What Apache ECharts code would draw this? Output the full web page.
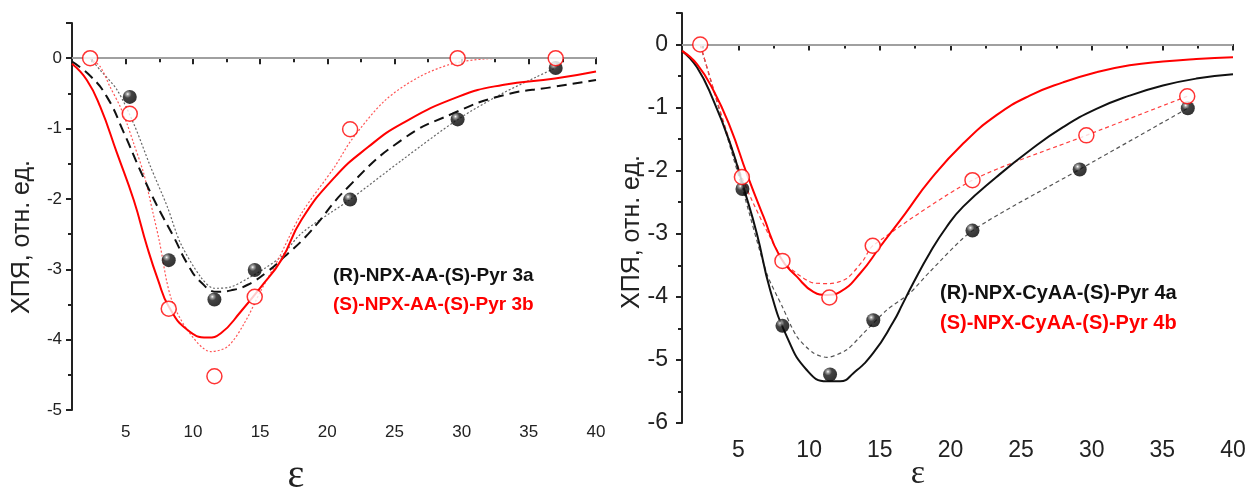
<!DOCTYPE html>
<html>
<head>
<meta charset="utf-8">
<script src="https://cdn.jsdelivr.net/npm/echarts@6/dist/echarts.min.js"></script>
<style>
  html, body { margin: 0; padding: 0; background: #fff; }
  #chart { width: 1250px; height: 491px; }
</style>
</head>
<body>
<div id="chart"></div>
<script>
// ---- левая панель: 3a / 3b ----
const eps3a = [5.3, 8.2, 11.6, 14.6, 21.7, 29.7, 37.0];
const val3a = [-0.55, -2.87, -3.43, -3.01, -2.01, -0.87, -0.14];
const eps3b = [2.35, 5.3, 8.2, 11.6, 14.6, 21.7, 29.7, 37.0];
const val3b = [0, -0.79, -3.56, -4.52, -3.39, -1.01, 0, 0];

// модельные кривые (сплошная / штриховая)
const model3aX = [1, 2.35, 3.6, 4.84, 6.09, 7.34, 8.6, 9.58, 10.58, 11.83, 12.83, 14.08, 15.57, 16.82, 18.57, 21.56, 25.55, 29.3, 33.04, 36.78, 40];
const model3aY = [-0.05, -0.25, -0.55, -1.05, -1.6, -2.1, -2.55, -2.92, -3.18, -3.32, -3.3, -3.22, -3.03, -2.82, -2.5, -1.83, -1.16, -0.79, -0.53, -0.41, -0.31];
const model3bX = [1, 2.1, 3.1, 4.35, 5.6, 6.59, 7.4, 8.2, 9.58, 11.08, 12.08, 13.57, 15.07, 16.57, 18.07, 20.56, 23.06, 25.55, 29.72, 33.04, 36.95, 40];
const model3bY = [-0.08, -0.31, -0.69, -1.35, -2.02, -2.68, -3.15, -3.53, -3.86, -3.97, -3.91, -3.6, -3.25, -2.87, -2.3, -1.69, -1.26, -0.93, -0.55, -0.38, -0.29, -0.19];
// аппроксимация точек (пунктир)
const fit3aX = [2.35, 3.1, 4.35, 5.59, 6.84, 8.09, 9.08, 10.58, 11.58, 12.83, 14.08, 15.32, 16.57, 18.07, 21.68, 25.55, 29.72, 33.04, 35.53, 36.95];
const fit3aY = [0, -0.17, -0.45, -0.93, -1.54, -2.11, -2.63, -3.11, -3.27, -3.25, -3.13, -2.99, -2.82, -2.49, -2.01, -1.45, -0.87, -0.5, -0.27, -0.14];
const fit3bX = [2.35, 3.1, 3.84, 4.59, 5.09, 5.59, 6.34, 7.09, 7.5, 8.34, 9.58, 11.33, 12.58, 13.82, 15.07, 16.32, 18.07, 20.56, 21.81, 24.3, 26.8, 29.29, 31.8, 34.3, 37];
const fit3bY = [0, -0.12, -0.41, -0.69, -0.93, -1.21, -1.64, -2.25, -2.6, -3.39, -3.86, -4.17, -4.1, -3.77, -3.3, -2.87, -2.21, -1.54, -1.16, -0.6, -0.27, -0.08, -0.01, 0, 0];

// ---- правая панель: 4a / 4b ----
const eps4a = [5.28, 8.11, 11.48, 14.54, 21.56, 29.15, 36.8];
const val4a = [-2.29, -4.46, -5.23, -4.37, -2.95, -1.98, -1.01];
const eps4b = [2.29, 5.24, 8.11, 11.43, 14.5, 21.56, 29.62, 36.76];
const val4b = [0, -2.1, -3.43, -4.01, -3.19, -2.15, -1.44, -0.82];

const model4aX = [1, 2.06, 3.23, 4.41, 5.35, 6.3, 7.24, 8.42, 9.83, 11.25, 12.19, 13.13, 14.54, 15.95, 16.6, 17.37, 18.55, 19.7, 20.9, 23.26, 25.61, 27.97, 30.33, 32.68, 35.04, 37.4, 40];
const model4aY = [-0.1, -0.36, -0.89, -1.57, -2.26, -3.0, -3.89, -4.63, -5.16, -5.34, -5.34, -5.21, -4.89, -4.4, -4.12, -3.78, -3.3, -2.9, -2.57, -2.1, -1.68, -1.31, -1.02, -0.81, -0.65, -0.54, -0.47];
const model4bX = [1, 2.06, 3.23, 4.41, 5.59, 6.77, 7.95, 9.13, 10.3, 11.25, 12.19, 13.6, 15.01, 16.8, 18.55, 20.9, 23.26, 25.61, 27.97, 30.33, 32.68, 35.04, 37.4, 40];
const model4bY = [-0.1, -0.31, -0.73, -1.31, -2.05, -2.73, -3.37, -3.68, -3.92, -3.97, -3.92, -3.63, -3.21, -2.68, -2.15, -1.57, -1.12, -0.81, -0.6, -0.44, -0.33, -0.27, -0.23, -0.2];
const fit4aX = [2.29, 5.28, 7.0, 8.11, 9.13, 10.3, 11.25, 12.66, 13.83, 15.49, 17.13, 18.55, 21.56, 29.15, 36.8];
const fit4aY = [0, -2.29, -3.63, -4.16, -4.63, -4.89, -4.96, -4.84, -4.58, -4.21, -3.94, -3.6, -2.95, -1.98, -1.01];
const fit4bX = [2.29, 5.24, 8.11, 9.13, 10.3, 11.48, 12.66, 13.83, 14.5, 21.56, 29.62, 36.76];
const fit4bY = [0, -2.1, -3.42, -3.63, -3.78, -3.79, -3.71, -3.42, -3.19, -2.15, -1.44, -0.82];

// подписи осей
const xMajor = [5, 10, 15, 20, 25, 30, 35, 40];
const xMinor = [2.5, 7.5, 12.5, 17.5, 22.5, 27.5, 32.5, 37.5];
const yLabels3 = [-5, -4, -3, -2, -1, 0];
const yMajor3 = [-5, -4, -3, -2, -1, 0, 0.5];
const yMinor3 = [-4.5, -3.5, -2.5, -1.5, -0.5];
const yLabels4 = [-6, -5, -4, -3, -2, -1, 0];
const yMajor4 = [-6, -5, -4, -3, -2, -1, 0, 0.5];
const yMinor4 = [-5.5, -4.5, -3.5, -2.5, -1.5, -0.5];

const yName = 'ХПЯ, отн. ед.';
const legend3 = ['(R)-NPX-AA-(S)-Pyr 3a', '(S)-NPX-AA-(S)-Pyr 3b'];
const legend4 = ['(R)-NPX-CyAA-(S)-Pyr 4a', '(S)-NPX-CyAA-(S)-Pyr 4b'];

const pairs = (xs, ys) => xs.map((x, i) => [x, ys[i]]);

const FONT = '"Liberation Sans", Arial, sans-serif';
const RED = '#ff0000';

// чёрные "шарики" с бликом
const sphere = new echarts.graphic.RadialGradient(0.35, 0.3, 0.7, [
    { offset: 0, color: '#ffffff' },
    { offset: 0.15, color: '#8a8a8a' },
    { offset: 0.4, color: '#151515' },
    { offset: 1, color: '#000000' }
]);

function xAxes(grid, fontSize, margin) {
    return [{
        gridIndex: grid, type: 'value', min: 1, max: 40, position: 'bottom',
        axisLine: { lineStyle: { color: '#222', width: 2 } },
        axisTick: { customValues: xMajor, length: 6, lineStyle: { color: '#222', width: 2 } },
        axisLabel: { customValues: xMajor, fontSize: fontSize, margin: margin, color: '#222', fontFamily: FONT },
        splitLine: { show: false }
    }, {
        gridIndex: grid, type: 'value', min: 1, max: 40, position: 'bottom',
        axisLine: { show: false },
        axisTick: { customValues: xMinor, length: 4, lineStyle: { color: '#222', width: 2 } },
        axisLabel: { show: false },
        splitLine: { show: false }
    }];
}

function yAxes(grid, min, labels, major, minor, fontSize, margin) {
    return [{
        gridIndex: grid, type: 'value', min: min, max: 0.5, position: 'left',
        axisLine: { show: true, lineStyle: { color: '#222', width: 2 } },
        axisTick: { show: true, customValues: major, length: 6, lineStyle: { color: '#222', width: 2 } },
        axisLabel: { customValues: labels, fontSize: fontSize, margin: margin, color: '#222', fontFamily: FONT },
        splitLine: { show: false }
    }, {
        gridIndex: grid, type: 'value', min: min, max: 0.5, position: 'left',
        axisLine: { show: false },
        axisTick: { show: true, customValues: minor, length: 4, lineStyle: { color: '#222', width: 2 } },
        axisLabel: { show: false },
        splitLine: { show: false }
    }];
}

function curve(ax, data, color, width, type, smooth, z) {
    return {
        type: 'line', xAxisIndex: ax, yAxisIndex: ax, data: data,
        smooth: smooth, showSymbol: false, symbol: 'none', silent: true, z: z,
        lineStyle: { color: color, width: width, type: type }
    };
}

function zeroLine(ax) {
    return {
        type: 'line', xAxisIndex: ax, yAxisIndex: ax, data: [], z: 1,
        markLine: {
            silent: true, symbol: 'none', label: { show: false },
            lineStyle: { color: '#a0a0a0', width: 2, type: 'solid' },
            data: [{ yAxis: 0 }]
        }
    };
}

function balls(ax, data) {
    return {
        type: 'scatter', xAxisIndex: ax, yAxisIndex: ax, data: data, z: 10,
        symbol: 'circle', symbolSize: 14,
        itemStyle: { color: sphere }
    };
}

function rings(ax, data) {
    return {
        type: 'scatter', xAxisIndex: ax, yAxisIndex: ax, data: data, z: 11,
        symbol: 'circle', symbolSize: 15,
        itemStyle: { color: '#ffffff', borderColor: RED, borderWidth: 1.5 }
    };
}

const chart = echarts.init(document.getElementById('chart'));

const option = {
    animation: false,
    backgroundColor: '#fff',
    grid: [
        { left: 72, top: 23, width: 524, height: 387 },
        { left: 682, top: 13, width: 551, height: 410 }
    ],
    xAxis: [...xAxes(0, 17, 14), ...xAxes(1, 23, 16)],
    yAxis: [
        ...yAxes(0, -5, yLabels3, yMajor3, yMinor3, 17, 10),
        ...yAxes(1, -6, yLabels4, yMajor4, yMinor4, 23, 14)
    ],
    series: [
        // левая панель (оси 0)
        zeroLine(0),
        curve(0, pairs(fit3aX, fit3aY), '#666', 1.2, [2, 2], 0.3, 3),
        curve(0, pairs(fit3bX, fit3bY), '#ff5555', 1.2, [2, 2], 0.3, 3),
        curve(0, pairs(model3aX, model3aY), '#111', 2, [10, 6], 0.5, 4),
        curve(0, pairs(model3bX, model3bY), RED, 2, 'solid', 0.5, 4),
        balls(0, pairs(eps3a, val3a)),
        rings(0, pairs(eps3b, val3b)),
        // правая панель (оси 2)
        zeroLine(2),
        curve(2, pairs(fit4aX, fit4aY), '#555', 1.2, [4, 3], 0.25, 3),
        curve(2, pairs(fit4bX, fit4bY), '#ff4040', 1.2, [4, 3], 0.25, 3),
        curve(2, pairs(model4aX, model4aY), '#111', 2, 'solid', 0.5, 4),
        curve(2, pairs(model4bX, model4bY), RED, 2, 'solid', 0.5, 4),
        balls(2, pairs(eps4a, val4a)),
        rings(2, pairs(eps4b, val4b))
    ],
    graphic: [
        { type: 'text', x: 22, y: 237, rotation: Math.PI / 2,
          style: { text: yName, font: '25px ' + FONT, fill: '#222', align: 'center', verticalAlign: 'middle' } },
        { type: 'text', x: 632, y: 232, rotation: Math.PI / 2,
          style: { text: yName, font: '25px ' + FONT, fill: '#222', align: 'center', verticalAlign: 'middle' } },
        { type: 'text', x: 296, y: 476,
          style: { text: 'ε', font: '40px "Liberation Serif", serif', fill: '#222', align: 'center', verticalAlign: 'middle' } },
        { type: 'text', x: 918, y: 474,
          style: { text: 'ε', font: '34px "Liberation Serif", serif', fill: '#222', align: 'center', verticalAlign: 'middle' } },
        { type: 'text', x: 333, y: 276,
          style: { text: legend3[0], font: 'bold 19px ' + FONT, fill: '#111', verticalAlign: 'middle' } },
        { type: 'text', x: 333, y: 305,
          style: { text: legend3[1], font: 'bold 19px ' + FONT, fill: RED, verticalAlign: 'middle' } },
        { type: 'text', x: 940, y: 293,
          style: { text: legend4[0], font: 'bold 20px ' + FONT, fill: '#111', verticalAlign: 'middle' } },
        { type: 'text', x: 940, y: 323,
          style: { text: legend4[1], font: 'bold 20px ' + FONT, fill: RED, verticalAlign: 'middle' } }
    ]
};

chart.setOption(option);
</script>
</body>
</html>
